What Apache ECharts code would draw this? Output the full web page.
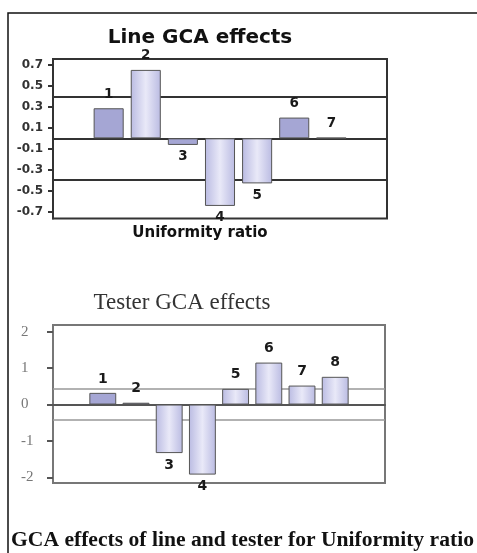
<!DOCTYPE html>
<html>
<head>
<meta charset="utf-8">
<script src="https://cdn.jsdelivr.net/npm/echarts@6/dist/echarts.min.js"></script>
<style>
  html, body { margin: 0; padding: 0; background: #ffffff; }
  #chart { width: 477px; height: 553px; }
</style>
</head>
<body>
<div id="chart"></div>
<script>
// ---- Data ----
const lineCategories = ['', '1', '2', '3', '4', '5', '6', '7', ''];
const lineValues = [null, 0.287, 0.653, -0.063, -0.645, -0.43, 0.198, 0.005, null];
const lineThresholds = [0.4, -0.4];
const lineTickValues = [0.7, 0.5, 0.3, 0.1, -0.1, -0.3, -0.5, -0.7];

const testerCategories = ['', '1', '2', '3', '4', '5', '6', '7', '8', ''];
const testerValues = [null, 0.32, 0.05, -1.33, -1.92, 0.43, 1.15, 0.52, 0.76, null];
const testerThresholds = [0.42, -0.42];
const testerTickValues = [2, 1, 0, -1, -2];

const titleLine = 'Line GCA effects';
const axisNameLine = 'Uniformity ratio';
const titleTester = 'Tester GCA effects';
const caption = 'GCA effects of line and tester for Uniformity ratio';

// ---- Styling helpers ----
const lightFill = new echarts.graphic.LinearGradient(0, 0, 1, 0, [
  { offset: 0, color: '#babbe2' },
  { offset: 0.5, color: '#e9e9f8' },
  { offset: 1, color: '#babbe2' }
]);
const darkFill = '#a5a6d4';

function barData(values, threshold) {
  return values.map(v => {
    if (v === null) return { value: null };
    const small = Math.abs(v) <= threshold;
    return {
      value: v,
      itemStyle: { color: small ? darkFill : lightFill },
      label: { position: v >= 0 ? 'top' : 'bottom', distance: v >= 0 ? 7 : 5 }
    };
  });
}

const chart = echarts.init(document.getElementById('chart'), null, { renderer: 'canvas' });

const option = {
  animation: false,
  backgroundColor: '#ffffff',
  grid: [
    { left: 53, top: 59, right: 90, height: 159.5, show: true, borderColor: '#333', borderWidth: 2, backgroundColor: 'transparent' },
    { left: 53, top: 325, right: 92, height: 158, show: true, borderColor: '#777', borderWidth: 2, backgroundColor: 'transparent' }
  ],
  xAxis: [
    {
      type: 'category', gridIndex: 0, data: lineCategories,
      axisLine: { show: true, onZero: true, lineStyle: { color: '#333', width: 2 } },
      axisTick: { show: false }, axisLabel: { show: false }, splitLine: { show: false }
    },
    {
      type: 'category', gridIndex: 1, data: testerCategories,
      axisLine: { show: true, onZero: true, lineStyle: { color: '#555', width: 2 } },
      axisTick: { show: false }, axisLabel: { show: false }, splitLine: { show: false }
    }
  ],
  yAxis: [
    {
      type: 'value', gridIndex: 0, min: -0.765, max: 0.757,
      axisLine: { show: true, lineStyle: { color: '#333', width: 2 } },
      axisTick: { show: true, inside: false, length: 5, customValues: lineTickValues, lineStyle: { color: '#333', width: 2 } },
      axisLabel: {
        customValues: lineTickValues, margin: 10,
        fontFamily: 'DejaVu Sans', fontWeight: 'bold', fontSize: 12, color: '#333'
      },
      splitLine: { show: false }
    },
    {
      type: 'value', gridIndex: 1, min: -2.15, max: 2.18,
      axisLine: { show: true, lineStyle: { color: '#777', width: 2 } },
      axisTick: { show: true, inside: false, length: 6, customValues: testerTickValues, lineStyle: { color: '#555', width: 2 } },
      axisLabel: {
        customValues: testerTickValues, margin: 32, align: 'left',
        fontFamily: 'Liberation Serif', fontSize: 15, color: '#777'
      },
      splitLine: { show: false }
    }
  ],
  series: [
    {
      type: 'bar', xAxisIndex: 0, yAxisIndex: 0, z: 2,
      barWidth: '81%',
      data: barData(lineValues, lineThresholds[0]),
      itemStyle: { borderColor: '#555', borderWidth: 1 },
      label: {
        show: true, formatter: '{b}',
        fontFamily: 'DejaVu Sans', fontWeight: 'bold', fontSize: 13.5, color: '#1a1a1a'
      },
      markLine: {
        z: 1, silent: true, symbol: 'none', animation: false,
        label: { show: false },
        lineStyle: { color: '#333', width: 2, type: 'solid' },
        data: lineThresholds.map(t => ({ yAxis: t }))
      }
    },
    {
      type: 'bar', xAxisIndex: 1, yAxisIndex: 1, z: 2,
      barWidth: '81%',
      data: barData(testerValues, testerThresholds[0]),
      itemStyle: { borderColor: '#555', borderWidth: 1 },
      label: {
        show: true, formatter: '{b}',
        fontFamily: 'DejaVu Sans', fontWeight: 'bold', fontSize: 14, color: '#1a1a1a'
      },
      markLine: {
        z: 1, silent: true, symbol: 'none', animation: false,
        label: { show: false },
        lineStyle: { color: '#999', width: 1.5, type: 'solid' },
        data: testerThresholds.map(t => ({ yAxis: t }))
      }
    }
  ],
  graphic: [
    {
      type: 'rect', silent: true, z: 0,
      shape: { x: 8, y: 13, width: 700, height: 700 },
      style: { fill: 'none', stroke: '#111', lineWidth: 1.5 }
    },
    {
      type: 'text', x: 200, y: 37.5, z: 10,
      style: { text: titleLine, fontFamily: 'DejaVu Sans', fontWeight: 'bold', fontSize: 20, fill: '#111', align: 'center', verticalAlign: 'middle' }
    },
    {
      type: 'text', x: 200, y: 233, z: 10,
      style: { text: axisNameLine, fontFamily: 'DejaVu Sans', fontWeight: 'bold', fontSize: 15, fill: '#111', align: 'center', verticalAlign: 'middle' }
    },
    {
      type: 'text', x: 182, y: 303, z: 10,
      style: { text: titleTester, fontFamily: 'Liberation Serif', fontSize: 23, fill: '#333', align: 'center', verticalAlign: 'middle' }
    },
    {
      type: 'text', x: 11, y: 540, z: 10,
      style: { text: caption, fontFamily: 'Liberation Serif', fontWeight: 'bold', fontSize: 21.6, fill: '#111', align: 'left', verticalAlign: 'middle' }
    }
  ]
};

chart.setOption(option);
</script>
</body>
</html>
